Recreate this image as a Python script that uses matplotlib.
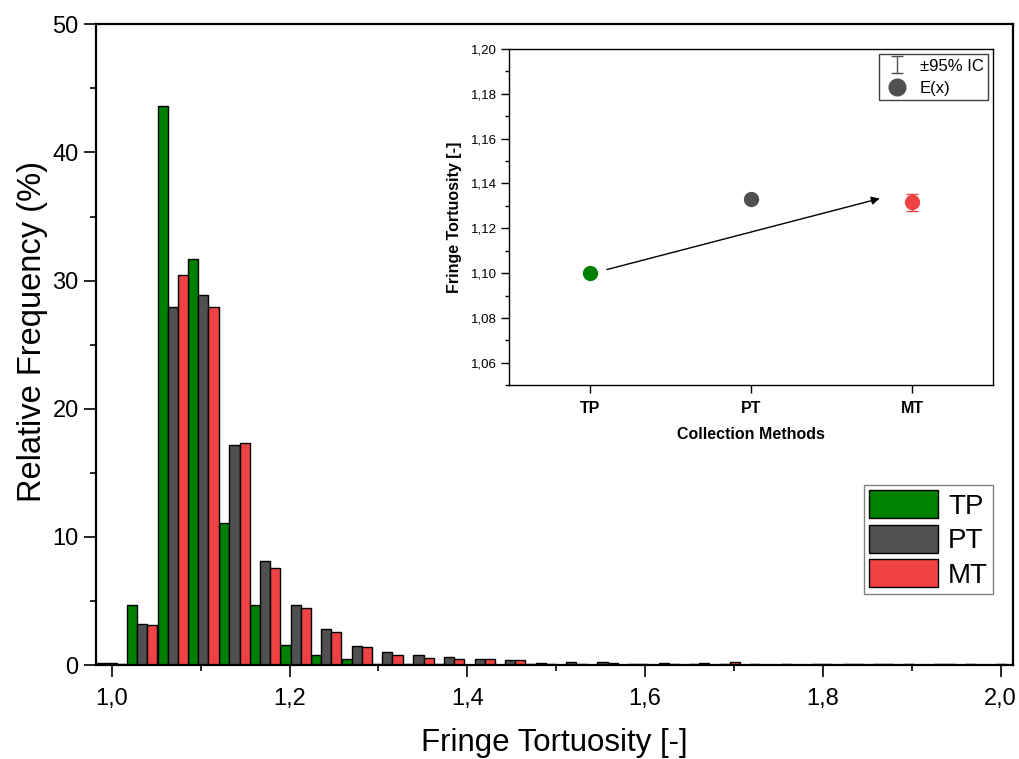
import numpy as np
import matplotlib
matplotlib.use("Agg")
import matplotlib.pyplot as plt
from matplotlib.patches import Patch
from matplotlib.lines import Line2D

plt.rcParams['font.family'] = ['Liberation Sans', 'DejaVu Sans']

# histogram bin centres (fringe tortuosity)
bins = [1.000, 1.034, 1.069, 1.103, 1.138, 1.172, 1.207, 1.241, 1.276, 1.310,
        1.345, 1.379, 1.414, 1.448, 1.483, 1.517, 1.552, 1.586, 1.621, 1.655,
        1.690, 1.724, 1.759, 1.793, 1.828, 1.862, 1.897, 1.931, 1.966, 2.000]

# relative frequency (%)
tp = [0.15, 4.65, 43.6, 31.7, 11.1, 4.65, 1.6, 0.75, 0.5, 0.1,
      0.1, 0.05, 0, 0, 0.1, 0, 0, 0, 0, 0,
      0, 0, 0, 0, 0, 0, 0, 0, 0, 0]
pt = [0.15, 3.2, 27.95, 28.9, 17.15, 8.1, 4.65, 2.85, 1.5, 1.05,
      0.75, 0.65, 0.45, 0.4, 0.15, 0.2, 0.2, 0.1, 0.15, 0.05,
      0.05, 0.05, 0.05, 0.05, 0.1, 0.05, 0.05, 0.1, 0.05, 0.05]
mt = [0.05, 3.1, 30.4, 27.95, 17.3, 7.55, 4.45, 2.6, 1.4, 0.8,
      0.55, 0.5, 0.5, 0.4, 0.1, 0.05, 0.15, 0.05, 0.1, 0.15,
      0.25, 0.02, 0, 0.05, 0.05, 0.05, 0, 0.05, 0, 0]

methods = ["TP", "PT", "MT"]
colors = ["#008000", "#505050", "#F04242"]

# inset: mean tortuosity and 95% confidence interval
means = [1.1000, 1.1332, 1.1316]
ci95 = [0.0010, 0.0012, 0.0037]

xticks = [1.0, 1.2, 1.4, 1.6, 1.8, 2.0]
xtick_labels = ["1,0", "1,2", "1,4", "1,6", "1,8", "2,0"]
yticks = [0, 10, 20, 30, 40, 50]
inset_yticks = [1.06, 1.08, 1.10, 1.12, 1.14, 1.16, 1.18, 1.20]
inset_ylabels = ["1,06", "1,08", "1,10", "1,12", "1,14", "1,16", "1,18", "1,20"]

fig = plt.figure(figsize=(10.19, 7.59), dpi=100)
ax = fig.add_axes([0.0942, 0.1238, 0.8999, 0.8442])

# grouped histogram bars
step = 1 / 29
w = step / 3
b = np.array(bins)
for i, (vals, c) in enumerate(zip([tp, pt, mt], colors)):
    ax.bar(b + (i - 1) * w, vals, width=w, color=c, edgecolor="black",
           linewidth=1.0, label=methods[i])

ax.set_xlim(0.9823, 2.0138)
ax.set_ylim(0, 50)
ax.set_xticks(xticks)
ax.set_xticklabels(xtick_labels)
ax.set_xticks([1.1, 1.3, 1.5, 1.7, 1.9], minor=True)
ax.set_yticks(yticks)
ax.set_yticks([5, 15, 25, 35, 45], minor=True)
ax.tick_params(which="major", direction="out", length=8.5, width=1.2,
               labelsize=17, pad=4)
ax.tick_params(axis="x", pad=8)
ax.tick_params(which="minor", direction="out", length=4, width=1.2)
for s in ax.spines.values():
    s.set_linewidth(1.6)
ax.set_xlabel("Fringe Tortuosity [-]", fontsize=22.5, labelpad=13)
ax.set_ylabel("Relative Frequency (%)", fontsize=23.5, labelpad=3)
ax.yaxis.set_label_coords(-0.052, 0.52)

handles = [Patch(facecolor=c, edgecolor="black", linewidth=1, label=m)
           for c, m in zip(colors, methods)]
leg = ax.legend(handles=handles, loc="upper left",
                bbox_to_anchor=(864 / 1019, 1 - 485 / 759),
                bbox_transform=fig.transFigure, fontsize=20,
                handlelength=2.48, handleheight=1.19, labelspacing=0.18,
                handletextpad=0.36, borderpad=0.18, borderaxespad=0,
                fancybox=False, edgecolor="#808080", framealpha=1)
leg.get_frame().set_linewidth(1)

# inset with mean values
ax2 = fig.add_axes([0.4998, 0.4924, 0.4745, 0.4431])
for i in range(3):
    ax2.errorbar(i + 1, means[i], yerr=ci95[i], fmt="o", color=colors[i],
                 markersize=10, capsize=4.5, elinewidth=1, capthick=1)
ax2.annotate("", xy=(2.815, 1.1336), xytext=(1.089, 1.1013),
             arrowprops=dict(arrowstyle="-|>", color="black", lw=1,
                             mutation_scale=12))
ax2.set_xlim(0.5, 3.5)
ax2.set_ylim(1.05, 1.20)
ax2.set_xticks([1, 2, 3])
ax2.set_xticklabels(methods, fontweight="bold", fontsize=11.5)
ax2.set_yticks(inset_yticks)
ax2.set_yticklabels(inset_ylabels, fontsize=9.5)
ax2.set_yticks([1.05, 1.07, 1.09, 1.11, 1.13, 1.15, 1.17, 1.19], minor=True)
ax2.tick_params(which="major", direction="out", length=6, width=1, pad=3)
ax2.tick_params(which="minor", direction="out", length=3, width=1)
ax2.tick_params(axis="x", pad=5)
for s in ax2.spines.values():
    s.set_linewidth(1)
ax2.set_xlabel("Collection Methods", fontweight="bold", fontsize=11.5, labelpad=8)
ax2.set_ylabel("Fringe Tortuosity [-]", fontweight="bold", fontsize=11.5, labelpad=6)

eb = ax2.errorbar([np.nan], [np.nan], yerr=[0.01], fmt="none",
                  ecolor="#505050", capsize=4, elinewidth=1, capthick=1)
dot = Line2D([], [], marker="o", color="#505050", ls="none", markersize=12)
leg2 = ax2.legend([eb, dot], ["±95% IC", "E(x)"], loc="upper right",
                  fontsize=12, handlelength=1.7, handleheight=1.0,
                  handletextpad=0.5, labelspacing=0.35, borderpad=0.25,
                  borderaxespad=0.3, fancybox=False, edgecolor="#404040",
                  framealpha=1)
leg2.get_frame().set_linewidth(1)

fig.savefig("out.png", dpi=100)
